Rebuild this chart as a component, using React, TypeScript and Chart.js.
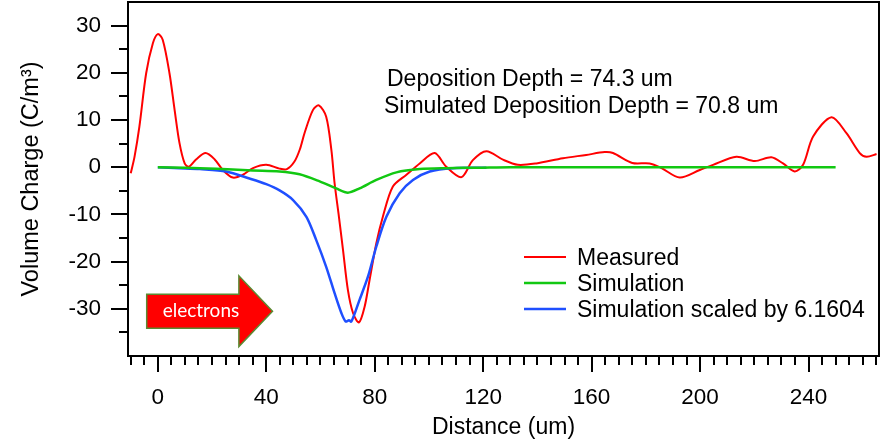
import React, { useEffect, useRef } from "react";
import { Chart, registerables } from "chart.js";

Chart.register(...registerables);

// ---------- data ----------
const measuredX = [
  -10, -8.6, -6.8, -4.3, -1.8, 0, 1.8, 4.3, 6.2, 8.0, 9.9, 11.4, 14.2, 17.6, 20.9, 24.0, 27.7, 31.4,
  35.1, 40.0, 44.9, 47.6, 50.4, 52.4, 54.1, 57.2, 59.4, 62.1, 64.0, 65.2, 66.8, 68.3, 70.1, 72.0, 74.2,
  76.3, 78.1, 80.6, 83.0, 86.7, 91.7, 96.6, 102.1, 106.4, 112.0, 116.2, 121.2, 127.3, 132.8, 139.6,
  149.4, 158.0, 164.8, 167.9, 175.0, 181.4, 185.8, 192.5, 199.9, 204.8, 213.4, 220.2, 226.3, 230.6,
  234.9, 238.0, 241.7, 248.5, 254.0, 258.9, 261.4, 265.1,
];
const measuredY = [
  -1.3, 2.2, 8.6, 19.9, 26.3, 28.2, 27.0, 19.9, 12.1, 5.1, 0.8, 0.1, 1.7, 3.0, 1.7, -0.6, -2.2, -1.6,
  -0.2, 0.5, -0.3, -0.4, 1.2, 3.8, 7.2, 12.1, 13.1, 10.7, 3.7, -3.4, -10.5, -17.5, -26.0, -30.9, -32.9,
  -29.5, -23.9, -16.1, -10.5, -4.1, -1.6, 0.8, 3.0, 0.1, -2.1, 1.5, 3.4, 1.6, 0.5, 0.8,
  1.9, 2.6, 3.2, 3.0, 0.9, 0.8, -0.2, -2.2, -0.6, 0.5, 2.2, 1.3, 2.1, 0.8,
  -0.9, 0.5, 6.5, 10.6, 7.2, 3.0, 2.2, 2.8,
];

const simulationX = [0, 10, 15.5, 27.6, 35, 44.9, 52.3, 59.7, 65.8, 70.1, 74.4, 80.6, 88.0, 96.6, 106.4, 118.7, 130, 250];
const simulationY = [0, -0.1, -0.2, -0.5, -0.7, -0.9, -1.5, -3.0, -4.5, -5.4, -4.5, -2.7, -1.1, -0.4, -0.2, -0.1, 0, 0];

const scaledX = [
  0, 8, 15.5, 25.2, 33.8, 40, 44.9, 49.8, 54.8, 58.4, 62.1, 65.2, 67.7, 69.3, 70.5, 71.4, 74.4, 77.5,
  80.6, 84.3, 89.2, 94.1, 100.3, 108.9, 121.2,
];
const scaledY = [
  0, -0.2, -0.4, -0.9, -2.4, -3.6, -4.9, -6.9, -10.5, -15.4, -21.1, -26.7, -30.9, -32.7, -32.4, -32.7,
  -28.1, -23.2, -16.8, -10.5, -5.5, -2.7, -0.9, -0.2, -0.1,
];

const xTickValues = [0, 40, 80, 120, 160, 200, 240];
const yTickValues = [-30, -20, -10, 0, 10, 20, 30];
const seriesLabels = ["Measured", "Simulation", "Simulation scaled by 6.1604"];
const annotationLines = ["Deposition Depth = 74.3 um", "Simulated Deposition Depth = 70.8 um"];
const arrowText = "electrons";
const xTitle = "Distance (um)";
const yTitle = "Volume Charge (C/m³)";

// ---------- styling ----------
const FONT = "'Liberation Sans', Arial, Helvetica, sans-serif";
const COLORS = ["#ff0000", "#12c812", "#1f4fff"];
const WIDTHS = [2, 2.5, 2.5];
const ORDERS = [3, 1, 2];

function toPoints(xs: number[], ys: number[]) {
  return xs.map((x, i) => ({ x, y: ys[i] }));
}

export default function App() {
  const ref = useRef<HTMLCanvasElement | null>(null);

  useEffect(() => {
    const canvas = ref.current;
    if (!canvas) return;

    const overlay = {
      id: "overlay",
      afterDraw(chart: any) {
        const { ctx, chartArea: a, scales } = chart;
        const xs = scales.x;
        const ys = scales.y;
        ctx.save();

        // frame
        ctx.strokeStyle = "#000";
        ctx.lineWidth = 2;
        ctx.strokeRect(a.left, a.top, a.right - a.left, a.bottom - a.top);

        // ticks
        ctx.beginPath();
        for (let v = -10; v <= 265; v += 5) {
          const px = Math.round(xs.getPixelForValue(v));
          const len = v % 40 === 0 ? 16 : 9;
          ctx.moveTo(px, a.bottom);
          ctx.lineTo(px, a.bottom + len);
        }
        for (let v = -35; v <= 30; v += 5) {
          const py = Math.round(ys.getPixelForValue(v));
          const len = v % 10 === 0 ? 17 : 9;
          ctx.moveTo(a.left, py);
          ctx.lineTo(a.left - len, py);
        }
        ctx.stroke();

        // annotation text
        ctx.fillStyle = "#000";
        ctx.font = `23px ${FONT}`;
        ctx.textAlign = "left";
        ctx.textBaseline = "alphabetic";
        ctx.fillText(annotationLines[0], a.left + 259, 85.5);
        ctx.fillText(annotationLines[1], a.left + 256, 113);

        // legend
        const legX = a.left + 396;
        const legYs = [257, 283, 309];
        seriesLabels.forEach((lab, i) => {
          ctx.strokeStyle = COLORS[i];
          ctx.lineWidth = WIDTHS[i];
          ctx.beginPath();
          ctx.moveTo(legX, legYs[i]);
          ctx.lineTo(legX + 42, legYs[i]);
          ctx.stroke();
          ctx.fillStyle = "#000";
          ctx.fillText(lab, legX + 53, legYs[i] + 8);
        });

        // electrons arrow (positioned in data space)
        const X = (v: number) => xs.getPixelForValue(v);
        const Y = (v: number) => ys.getPixelForValue(v);
        ctx.beginPath();
        ctx.moveTo(X(-4.1), Y(-26.9));
        ctx.lineTo(X(29.9), Y(-26.9));
        ctx.lineTo(X(29.9), Y(-23.0));
        ctx.lineTo(X(42.3), Y(-30.5));
        ctx.lineTo(X(29.9), Y(-38.0));
        ctx.lineTo(X(29.9), Y(-34.1));
        ctx.lineTo(X(-4.1), Y(-34.1));
        ctx.closePath();
        ctx.fillStyle = "#ff0000";
        ctx.fill();
        ctx.strokeStyle = "#5a8a32";
        ctx.lineWidth = 1.5;
        ctx.stroke();
        ctx.fillStyle = "#ffffff";
        ctx.font = `19px Lato, 'Open Sans', sans-serif`;
        ctx.textAlign = "center";
        ctx.textBaseline = "middle";
        ctx.fillText(arrowText, X(15.9), Y(-30.5));

        ctx.restore();
      },
    };

    const datasets = [
      toPoints(measuredX, measuredY),
      toPoints(simulationX, simulationY),
      toPoints(scaledX, scaledY),
    ].map((data, i) => ({
      label: seriesLabels[i],
      data,
      borderColor: COLORS[i],
      backgroundColor: COLORS[i],
      borderWidth: WIDTHS[i],
      pointRadius: 0,
      fill: false,
      tension: 0.3,
      order: ORDERS[i],
    }));

    const chart = new Chart(canvas, {
      type: "line",
      data: { datasets },
      options: {
        animation: false,
        responsive: false,
        devicePixelRatio: 1,
        layout: { padding: { top: 2, right: 5, left: 0, bottom: 0 } },
        plugins: { legend: { display: false }, tooltip: { enabled: false } },
        scales: {
          x: {
            type: "linear",
            min: -11,
            max: 266,
            grid: { display: false, drawTicks: false },
            border: { display: false },
            afterBuildTicks: (s: any) => {
              s.ticks = xTickValues.map((v) => ({ value: v }));
            },
            afterFit: (s: any) => {
              s.height = 85;
              s.paddingLeft = 0;
              s.paddingRight = 0;
            },
            ticks: {
              autoSkip: false,
              maxRotation: 0,
              padding: 28,
              color: "#000",
              font: { family: FONT, size: 22.5 },
            },
            title: {
              display: true,
              text: xTitle,
              color: "#000",
              font: { family: FONT, size: 23 },
              padding: { top: 0, bottom: 0 },
            },
          },
          y: {
            type: "linear",
            min: -40,
            max: 35,
            grid: { display: false, drawTicks: false },
            border: { display: false },
            afterBuildTicks: (s: any) => {
              s.ticks = yTickValues.map((v) => ({ value: v }));
            },
            afterFit: (s: any) => {
              s.width = 128;
              s.paddingTop = 0;
              s.paddingBottom = 0;
            },
            ticks: {
              autoSkip: false,
              padding: 27,
              color: "#000",
              font: { family: FONT, size: 22.5 },
            },
            title: {
              display: true,
              text: yTitle,
              color: "#000",
              font: { family: FONT, size: 23.5 },
              padding: { top: 17, bottom: 0 },
            },
          },
        },
      },
      plugins: [overlay],
    });

    return () => chart.destroy();
  }, []);

  return (
    <div style={{ position: "fixed", left: 0, top: 0, width: 884, height: 441, background: "#fff" }}>
      <canvas ref={ref} width={884} height={441} style={{ width: 884, height: 441, display: "block" }} />
    </div>
  );
}
